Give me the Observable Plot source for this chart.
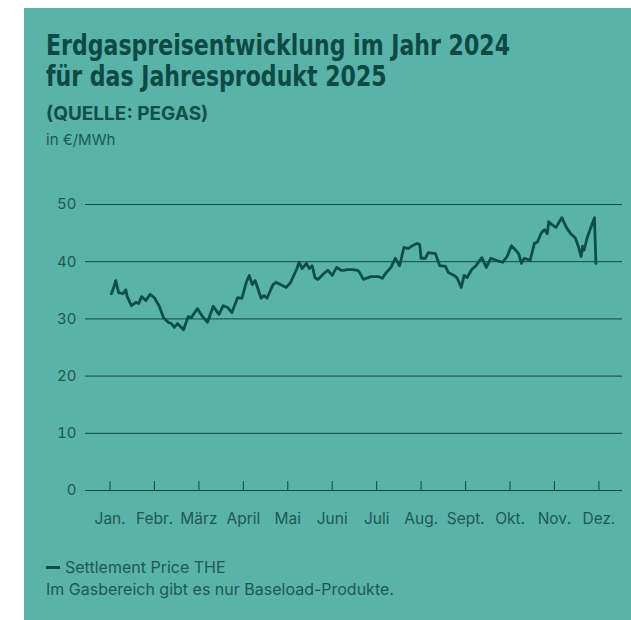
<!DOCTYPE html>
<html><head><meta charset="utf-8">
<script src="https://cdn.jsdelivr.net/npm/d3@7"></script>
<script src="https://cdn.jsdelivr.net/npm/@observablehq/plot@0.6"></script>
<style>
body{margin:0;background:#fff;width:631px;height:620px;overflow:hidden;position:relative;font-family:Inter,sans-serif;}
#panel{position:absolute;left:24px;top:8px;width:607px;height:612px;background:#59b3a8;}
#title{position:absolute;left:46px;top:30px;font-family:"DejaVu Sans Condensed","DejaVu Sans",sans-serif;font-stretch:condensed;font-weight:700;font-size:29px;line-height:31px;color:#0c4a43;white-space:nowrap;transform-origin:0 0}
#src{position:absolute;left:46px;top:102px;font-weight:700;font-size:19px;color:#114f48;white-space:nowrap}
#unit{position:absolute;left:46px;top:130px;font-size:15px;color:#1d5a53;white-space:nowrap}
#chart{position:absolute;left:0;top:150px}
#legend{position:absolute;left:46px;top:556px;font-size:16px;color:#1d5a53;line-height:22px;white-space:nowrap}
#legend .dash{display:inline-block;width:14px;height:3px;background:#0d4f48;vertical-align:middle;margin-right:5px;position:relative;top:-1px}
</style>
</head><body>
<div id="panel"></div>
<div id="title">Erdgaspreisentwicklung im Jahr 2024<br>für das Jahresprodukt 2025</div>
<div id="src">(QUELLE: PEGAS)</div>
<div id="unit">in €/MWh</div>
<div id="chart"></div>
<div id="legend"><span class="dash"></span>Settlement Price THE<br>Im Gasbereich gibt es nur Baseload-Produkte.</div>
<script>
const dates = ["2024-01-02","2024-01-04","2024-01-05","2024-01-07","2024-01-10","2024-01-12","2024-01-13","2024-01-16","2024-01-19","2024-01-21","2024-01-23","2024-01-26","2024-01-29","2024-02-01","2024-02-04","2024-02-07","2024-02-10","2024-02-12","2024-02-14","2024-02-16","2024-02-20","2024-02-23","2024-02-25","2024-02-29","2024-03-03","2024-03-07","2024-03-11","2024-03-15","2024-03-18","2024-03-21","2024-03-24","2024-03-28","2024-03-31","2024-04-03","2024-04-05","2024-04-07","2024-04-09","2024-04-13","2024-04-15","2024-04-17","2024-04-21","2024-04-23","2024-04-26","2024-04-30","2024-05-03","2024-05-07","2024-05-09","2024-05-11","2024-05-14","2024-05-16","2024-05-18","2024-05-20","2024-05-22","2024-05-26","2024-05-29","2024-06-01","2024-06-04","2024-06-07","2024-06-09","2024-06-11","2024-06-13","2024-06-15","2024-06-18","2024-06-19","2024-06-22","2024-06-27","2024-07-02","2024-07-05","2024-07-07","2024-07-11","2024-07-14","2024-07-17","2024-07-20","2024-07-23","2024-07-26","2024-07-29","2024-07-31","2024-08-01","2024-08-04","2024-08-06","2024-08-11","2024-08-14","2024-08-18","2024-08-20","2024-08-24","2024-08-26","2024-08-29","2024-08-31","2024-09-02","2024-09-05","2024-09-08","2024-09-12","2024-09-15","2024-09-18","2024-09-22","2024-09-26","2024-09-29","2024-10-02","2024-10-05","2024-10-07","2024-10-09","2024-10-11","2024-10-15","2024-10-18","2024-10-20","2024-10-23","2024-10-25","2024-10-27","2024-10-28","2024-10-30","2024-11-02","2024-11-06","2024-11-09","2024-11-12","2024-11-15","2024-11-17","2024-11-19","2024-11-20","2024-11-21","2024-11-23","2024-11-25","2024-11-28","2024-11-29"];
const prices = [34.4,35.8,36.7,34.6,34.4,35.1,33.9,32.3,32.9,32.7,33.9,33.2,34.3,33.7,32.3,30.2,29.4,29.2,28.5,29.2,28.1,30.4,30.2,31.8,30.6,29.4,32.2,30.8,32.3,32.0,31.1,33.7,33.6,36.4,37.6,36.0,36.7,33.6,34.1,33.6,36.0,36.4,36.0,35.5,36.4,38.6,39.9,38.8,39.7,38.8,39.3,37.2,36.9,37.9,38.5,37.6,39.0,38.5,38.5,38.6,38.6,38.6,38.5,38.3,36.9,37.4,37.4,37.1,37.9,39.0,40.6,39.3,42.5,42.3,42.8,43.2,43.0,40.6,40.6,41.6,41.4,39.3,39.2,38.1,37.6,37.2,35.5,37.6,37.2,38.6,39.3,40.7,39.0,40.6,40.2,39.9,40.9,42.8,42.0,41.4,39.7,40.6,40.2,43.2,43.4,45.1,45.6,44.9,47.0,46.5,46.0,47.7,46.0,44.9,44.2,42.8,40.9,42.7,42.0,44.1,45.6,47.7,39.7];
const monthLabels = ["Jan.","Febr.","März","April","Mai","Juni","Juli","Aug.","Sept.","Okt.","Nov.","Dez."];
const yTicks = [0,10,20,30,40,50];

// fit the condensed title to the reference width
const title = document.getElementById("title");
const tw = title.scrollWidth;
if (tw > 0) title.style.transform = `scaleX(${464 / tw})`;

// position each date on an evenly spaced month axis (month index + fraction of month)
function monthPos(s){
  const d = d3.isoParse(s);
  const m = d.getMonth();
  const days = new Date(d.getFullYear(), m+1, 0).getDate();
  return m + (d.getDate()-1)/days;
}
const data = dates.map((s,i)=>({pos: monthPos(s), price: prices[i]}));
const monthIdx = monthLabels.map((_,i)=>i);
const ink = "#1d5a53";

const chart = Plot.plot({
  width: 631, height: 390,
  marginLeft: 85, marginRight: 9, marginTop: 54, marginBottom: 50,
  style: {background: "transparent", fontFamily: "Inter, sans-serif", fontSize: "15px", color: ink},
  x: {type: "linear", domain: [0, 11], insetLeft: 24.5, insetRight: 23.6},
  y: {domain: [0, 50]},
  marks: [
    Plot.ruleY(yTicks, {stroke: "#0e4a44", strokeWidth: 1}),
    Plot.axisY({ticks: yTicks, tickSize: 0, tickPadding: 9, label: null, fill: ink, fontSize: 15}),
    Plot.axisX({ticks: monthIdx, tickSize: 9, dy: -9, text: null, stroke: "#0e4a44", label: null}),
    Plot.axisX({ticks: monthIdx, tickSize: 0, tickPadding: 22, tickFormat: i => monthLabels[i], label: null, fill: ink, fontSize: 15.5}),
    Plot.line(data, {x: "pos", y: "price", stroke: "#0d4f48", strokeWidth: 2.8, strokeLinejoin: "round"})
  ]
});
document.getElementById("chart").appendChild(chart);
</script>
</body></html>
